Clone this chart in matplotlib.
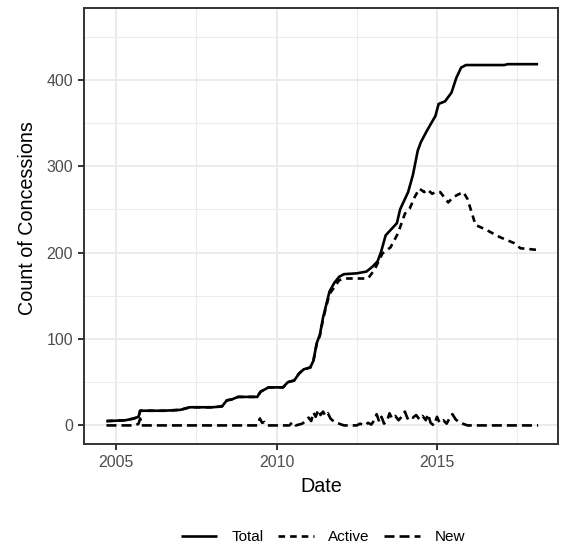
import matplotlib
matplotlib.use("Agg")
import matplotlib.pyplot as plt

plt.rcParams['font.family'] = ['Liberation Sans', 'DejaVu Sans']

# ---- data (decimal years, counts) ----
total_x = [2004.70, 2005.30, 2005.55, 2005.70, 2005.75, 2006.50, 2007.00, 2007.30, 2008.00, 2008.30,
           2008.45, 2008.60, 2008.80, 2009.40, 2009.50, 2009.75, 2010.20, 2010.35, 2010.55, 2010.70,
           2010.85, 2011.05, 2011.15, 2011.25, 2011.35, 2011.45, 2011.55, 2011.65, 2011.80, 2011.95,
           2012.10, 2012.50, 2012.80, 2013.00, 2013.15, 2013.25, 2013.40, 2013.55, 2013.75, 2013.85,
           2014.00, 2014.10, 2014.25, 2014.40, 2014.50, 2014.70, 2014.95, 2015.05, 2015.25, 2015.45,
           2015.60, 2015.75, 2015.90, 2016.50, 2017.10, 2017.20, 2018.15]
total_y = [5, 6, 8, 10, 17, 17, 18, 21, 21, 22,
           29, 30, 33, 33, 39, 44, 44, 50, 52, 60,
           65, 67, 75, 95, 105, 125, 140, 155, 165, 172,
           175, 176, 178, 184, 190, 200, 220, 226, 234, 250,
           262, 270, 290, 318, 328, 342, 358, 372, 375, 385,
           402, 414, 417, 417, 417, 418, 418]

active_x = [2004.70, 2005.30, 2005.55, 2005.70, 2005.75, 2006.50, 2007.00, 2007.30, 2008.00, 2008.30,
            2008.45, 2008.60, 2008.80, 2009.40, 2009.50, 2009.75, 2010.20, 2010.35, 2010.55, 2010.70,
            2010.85, 2011.05, 2011.15, 2011.25, 2011.35, 2011.45, 2011.55, 2011.65, 2011.80, 2011.95,
            2012.10, 2012.85, 2013.05, 2013.30, 2013.55, 2013.78, 2014.00, 2014.15, 2014.30, 2014.45,
            2014.60, 2014.70, 2014.85, 2014.95, 2015.10, 2015.35, 2015.50, 2015.65, 2015.82, 2015.95,
            2016.05, 2016.20, 2016.55, 2016.95, 2017.40, 2017.60, 2018.15]
active_y = [5, 6, 8, 10, 17, 17, 18, 21, 21, 22,
            29, 30, 33, 33, 39, 44, 44, 50, 52, 60,
            65, 67, 75, 94, 104, 123, 138, 152, 160, 168,
            170, 170, 180, 199, 206, 222, 245, 251, 264, 274,
            270, 273, 268, 270, 270, 258, 264, 267, 270, 262,
            250, 232, 226, 218, 211, 205, 203]

new_x = [2004.70, 2005.60, 2005.70, 2005.75, 2005.80, 2009.40, 2009.48, 2009.55, 2009.62, 2009.70,
         2010.40, 2010.50, 2010.60, 2010.80, 2010.90, 2011.00, 2011.08, 2011.15, 2011.22, 2011.30,
         2011.37, 2011.45, 2011.52, 2011.60, 2011.68, 2011.80, 2011.95, 2012.10, 2012.50, 2012.60,
         2012.75, 2012.85, 2012.95, 2013.05, 2013.12, 2013.20, 2013.27, 2013.35, 2013.45, 2013.52,
         2013.60, 2013.70, 2013.80, 2013.90, 2014.00, 2014.08, 2014.15, 2014.25, 2014.35, 2014.45,
         2014.55, 2014.65, 2014.72, 2014.80, 2014.90, 2015.00, 2015.08, 2015.20, 2015.30, 2015.40,
         2015.48, 2015.58, 2015.68, 2015.80, 2015.95, 2018.15]
new_y = [0, 0, 2, 8, 0, 0, 8, 3, 4, 0,
         0, 4, 0, 2, 5, 9, 5, 15, 10, 18,
         12, 16, 11, 14, 8, 4, 2, 0, 0, 2,
         0, 3, 1, 6, 13, 4, 10, 2, 6, 14,
         8, 11, 6, 10, 16, 8, 11, 9, 12, 7,
         11, 6, 13, 3, 0, 10, 3, 6, 2, 9,
         13, 7, 4, 2, 0, 0]

series_labels = ["Total", "Active", "New"]
x_ticks = [2005, 2010, 2015]
y_ticks = [0, 100, 200, 300, 400]

# ---- figure ----
W, H = 562, 550
fig = plt.figure(figsize=(W / 100, H / 100), dpi=100)
ax = fig.add_axes([84 / W, 1 - 444 / H, (558 - 84) / W, (444 - 8) / H])

lw = 1.9
grey20 = "#333333"
styles = [dict(linestyle="-"),
          dict(linestyle=(0, (2.5, 1.9))),
          dict(linestyle=(0, (3.8, 1.9)))]

data = [(total_x, total_y), (active_x, active_y), (new_x, new_y)]
handles = []
for (xs, ys), lab, st in zip(data, series_labels, styles):
    ln, = ax.plot(xs, ys, color="black", lw=lw, dash_capstyle="butt",
                  solid_joinstyle="round", solid_capstyle="butt",
                  label=lab, **st, zorder=3)
    handles.append(ln)

ax.set_xlim(2004.0, 2018.77)
ax.set_ylim(-21.5, 483)
ax.set_xticks(x_ticks)
ax.set_xticklabels([str(t) for t in x_ticks])
ax.set_yticks(y_ticks)
ax.set_xticks([2007.5, 2012.5, 2017.5], minor=True)
ax.set_yticks([50, 150, 250, 350, 450], minor=True)

ax.grid(True, which="major", color="#EBEBEB", lw=1.4, zorder=0)
ax.grid(True, which="minor", color="#EBEBEB", lw=0.75, zorder=0)
ax.set_axisbelow(True)
for s in ax.spines.values():
    s.set_color(grey20)
    s.set_linewidth(1.4)
ax.tick_params(which="major", length=4.3, width=1.4, color=grey20,
               labelsize=11.4, labelcolor="#4D4D4D", pad=3.5)
ax.tick_params(which="minor", length=0)

fig.text(321 / W, 1 - 487 / H, "Date", fontsize=14.2, color="black",
         ha="center", va="center")
fig.text(28 / W, 1 - 218 / H, "Count of Concessions", fontsize=14.2,
         color="black", ha="center", va="center", rotation=90)

leg = fig.legend(handles=handles, labels=series_labels, loc="center",
                 bbox_to_anchor=(323 / W, 1 - 537 / H), ncol=3, frameon=False,
                 fontsize=11.0, handlelength=2.35, handletextpad=0.95,
                 columnspacing=0.95)

fig.savefig("out.png", dpi=100)
